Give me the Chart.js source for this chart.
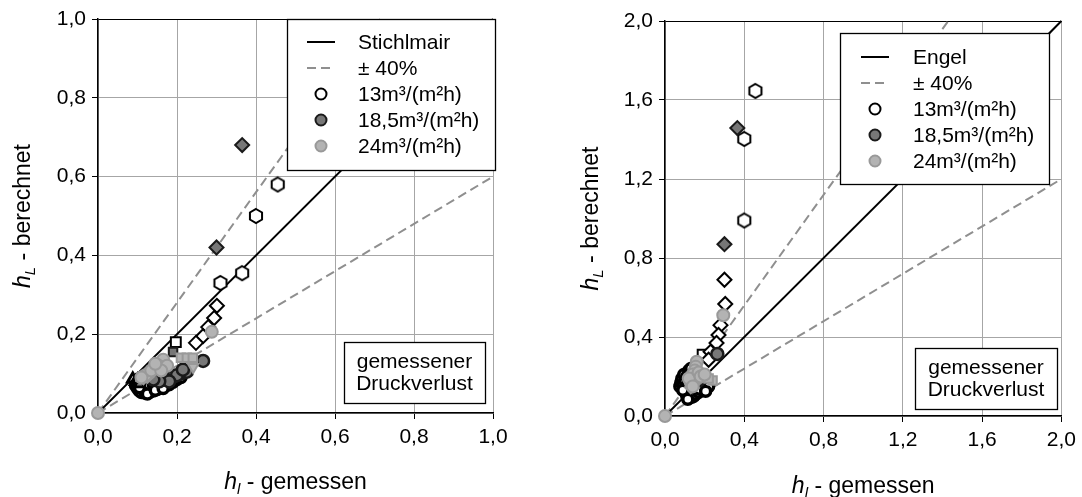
<!DOCTYPE html>
<html>
<head>
<meta charset="utf-8">
<script src="https://cdn.jsdelivr.net/npm/chart.js@4.4.1/dist/chart.umd.min.js"></script>
<style>
  body { margin: 0; background: #fff; }
  #wrap { position: relative; width: 1082px; height: 497px; }
  canvas { position: absolute; top: 0; }
</style>
</head>
<body>
<div id="wrap">
  <canvas id="chartL" width="541" height="497" style="left:0"></canvas>
  <canvas id="chartR" width="541" height="497" style="left:541px"></canvas>
</div>
<script>
// ---- Stichlmair panel: [gemessen, berechnet] ----
const stichHex13 = [[0.455, 0.58], [0.40, 0.50], [0.365, 0.355], [0.31, 0.33]];
const stichDia13 = [[0.301, 0.272], [0.294, 0.241], [0.279, 0.218], [0.266, 0.195], [0.248, 0.178]];
const stichSq13 = [[0.197, 0.18]];
const stichTri13 = [[0.088, 0.086], [0.095, 0.08], [0.105, 0.074], [0.10, 0.084]];
const stichCirc13 = [[0.095, 0.07], [0.10, 0.062], [0.105, 0.056], [0.11, 0.052], [0.115, 0.06], [0.12, 0.05],
  [0.125, 0.058], [0.13, 0.052], [0.135, 0.062], [0.14, 0.056], [0.145, 0.066], [0.15, 0.06], [0.155, 0.07],
  [0.16, 0.064], [0.165, 0.074], [0.17, 0.068], [0.175, 0.078], [0.18, 0.072], [0.185, 0.082], [0.19, 0.078],
  [0.20, 0.085], [0.21, 0.09], [0.11, 0.068], [0.12, 0.066], [0.13, 0.07], [0.14, 0.072], [0.105, 0.064],
  [0.125, 0.048], [0.145, 0.058], [0.165, 0.062], [0.195, 0.088]];
const stichDia185 = [[0.365, 0.68], [0.30, 0.42]];
const stichSq185 = [[0.19, 0.155]];
const stichCirc185 = [[0.266, 0.132], [0.21, 0.10], [0.19, 0.092], [0.17, 0.085], [0.20, 0.096], [0.18, 0.08],
  [0.225, 0.105], [0.155, 0.08], [0.14, 0.085], [0.215, 0.11]];
const stichCirc24 = [[0, 0], [0.288, 0.206], [0.165, 0.135], [0.15, 0.122], [0.14, 0.112], [0.13, 0.102],
  [0.12, 0.096], [0.155, 0.118], [0.135, 0.108], [0.11, 0.09], [0.175, 0.12], [0.16, 0.108], [0.145, 0.125]];
const stichSq24 = [[0.21, 0.14], [0.225, 0.14], [0.24, 0.14]];
const stichTri24 = [[0.241, 0.117]];
const stichDia24 = [[0.115, 0.088], [0.125, 0.092]];
const stichLine = [[0, 0], [1, 1]];
const stichUpper = [[0, 0], [0.714, 1]];
const stichLower = [[0, 0], [1, 0.6]];

// ---- Engel panel ----
const engelHex13 = [[0.456, 1.646], [0.40, 1.403], [0.40, 0.99]];
const engelDia13 = [[0.30, 0.69], [0.304, 0.567], [0.28, 0.46], [0.27, 0.41], [0.26, 0.37], [0.23, 0.325], [0.22, 0.285]];
const engelSq13 = [[0.19, 0.31]];
const engelCirc13 = [[0.075, 0.15], [0.08, 0.17], [0.085, 0.19], [0.09, 0.16], [0.095, 0.21], [0.10, 0.18],
  [0.10, 0.14], [0.105, 0.12], [0.11, 0.10], [0.115, 0.16], [0.12, 0.09], [0.125, 0.13], [0.13, 0.11],
  [0.135, 0.095], [0.14, 0.12], [0.145, 0.10], [0.15, 0.13], [0.155, 0.11], [0.16, 0.14], [0.17, 0.12],
  [0.18, 0.15], [0.19, 0.13], [0.20, 0.16], [0.21, 0.14], [0.22, 0.15], [0.12, 0.23], [0.11, 0.20], [0.13, 0.24],
  [0.09, 0.13], [0.115, 0.085], [0.175, 0.135], [0.205, 0.125]];
const engelDia185 = [[0.365, 1.458], [0.30, 0.87]];
const engelCirc185 = [[0.264, 0.314], [0.13, 0.20], [0.15, 0.22], [0.17, 0.18]];
const engelCirc24 = [[0, 0], [0.294, 0.51], [0.16, 0.275], [0.155, 0.25], [0.15, 0.23], [0.14, 0.21], [0.16, 0.20],
  [0.15, 0.18], [0.13, 0.17], [0.12, 0.19], [0.17, 0.22], [0.18, 0.20], [0.14, 0.15], [0.20, 0.21]];
const engelSq24 = [[0.24, 0.18], [0.22, 0.19]];
const engelDia24 = [[0.13, 0.145]];
const engelLine = [[0, 0], [2, 2]];
const engelUpper = [[0, 0], [1.429, 2]];
const engelLower = [[0, 0], [2, 1.2]];

const legendStich = ['Stichlmair', '± 40%', '13m³/(m²h)', '18,5m³/(m²h)', '24m³/(m²h)'];
const legendEngel = ['Engel', '± 40%', '13m³/(m²h)', '18,5m³/(m²h)', '24m³/(m²h)'];
const boxText = ['gemessener', 'Druckverlust'];

const FONT = '"Liberation Sans", Arial, sans-serif';
const series = {
  v13: { fill: '#ffffff', stroke: '#000000' },
  v185: { fill: '#777777', stroke: '#1a1a1a' },
  v24: { fill: '#b3b3b3', stroke: '#999999' }
};
const DASH = [9, 5];
const DASH_COLOR = '#8f8f8f';

const pts = arr => arr.map(p => ({ x: p[0], y: p[1] }));

// hexagon marker as a small canvas
function hexMarker(r, fill, stroke, lw) {
  const c = document.createElement('canvas');
  const s = Math.ceil(2 * r + lw + 2);
  c.width = s; c.height = s;
  const g = c.getContext('2d');
  g.beginPath();
  for (let k = 0; k < 6; k++) {
    const a = -Math.PI / 2 + k * Math.PI / 3;
    const px = s / 2 + r * Math.cos(a), py = s / 2 + r * Math.sin(a);
    k ? g.lineTo(px, py) : g.moveTo(px, py);
  }
  g.closePath();
  g.fillStyle = fill; g.fill();
  g.lineWidth = lw; g.strokeStyle = stroke; g.stroke();
  return c;
}

function markers(data, style, col, radius, rotation, bw) {
  return {
    type: 'scatter', data: pts(data), showLine: false, clip: false,
    pointStyle: style, pointRadius: radius || 6, pointRotation: rotation || 0,
    pointBackgroundColor: col.fill, pointBorderColor: col.stroke, pointBorderWidth: bw || 2
  };
}

function refLine(data, color, dash) {
  return {
    type: 'scatter', data: pts(data), showLine: true, clip: false,
    borderColor: color, borderWidth: dash ? 2 : 1.8, borderDash: dash || [],
    pointRadius: 0
  };
}

// italic h with subscript, then plain text, centered on cx
function titleText(ctx, sub, rest, cx, base) {
  ctx.font = 'italic 23px ' + FONT;
  const w1 = ctx.measureText('h').width;
  ctx.font = 'italic 15px ' + FONT;
  const w2 = ctx.measureText(sub).width;
  ctx.font = '23px ' + FONT;
  const w3 = ctx.measureText(rest).width;
  let x = cx - (w1 + w2 + w3) / 2;
  ctx.fillStyle = '#000';
  ctx.textBaseline = 'alphabetic';
  ctx.textAlign = 'left';
  ctx.font = 'italic 23px ' + FONT; ctx.fillText('h', x, base); x += w1;
  ctx.font = 'italic 15px ' + FONT; ctx.fillText(sub, x, base + 5); x += w2;
  ctx.font = '23px ' + FONT; ctx.fillText(rest, x, base);
}

const panelDecor = {
  id: 'panelDecor',
  afterDraw(chart, args, o) {
    const ctx = chart.ctx;
    const a = chart.chartArea;
    ctx.save();

    // legend box
    const L = o.legend;
    ctx.fillStyle = '#fff';
    ctx.fillRect(L.x1, L.y1, L.x2 - L.x1, L.y2 - L.y1);
    ctx.strokeStyle = '#000'; ctx.lineWidth = 1.3; ctx.setLineDash([]);
    ctx.strokeRect(L.x1 + 0.5, L.y1 + 0.5, L.x2 - L.x1, L.y2 - L.y1);
    if (o.bevel) {
      ctx.beginPath();
      ctx.moveTo(L.x2 + 0.5, L.y1 + 0.5);
      ctx.lineTo(a.right, a.top);
      ctx.stroke();
    }
    const mx = L.symX, lineHalf = 14;
    L.labels.forEach((txt, i) => {
      const y = L.row0 + i * L.rowGap;
      if (i === 0 || i === 1) {
        ctx.beginPath();
        ctx.strokeStyle = i === 0 ? '#000' : DASH_COLOR;
        ctx.lineWidth = 2;
        ctx.setLineDash(i === 0 ? [] : DASH);
        ctx.moveTo(mx - lineHalf, y); ctx.lineTo(mx + lineHalf, y);
        ctx.stroke();
        ctx.setLineDash([]);
      } else {
        const col = [series.v13, series.v185, series.v24][i - 2];
        ctx.beginPath();
        ctx.arc(mx, y, 5.5, 0, Math.PI * 2);
        ctx.fillStyle = col.fill; ctx.fill();
        ctx.lineWidth = 2; ctx.strokeStyle = col.stroke; ctx.stroke();
      }
      ctx.fillStyle = '#000';
      ctx.font = '21px ' + FONT;
      ctx.textBaseline = 'middle'; ctx.textAlign = 'left';
      ctx.fillText(txt, L.textX, y + 1);
    });

    // "gemessener Druckverlust" box
    const B = o.box;
    ctx.fillStyle = '#fff';
    ctx.fillRect(B.x1, B.y1, B.x2 - B.x1, B.y2 - B.y1);
    ctx.strokeStyle = '#000'; ctx.lineWidth = 1.3;
    ctx.strokeRect(B.x1 + 0.5, B.y1 + 0.5, B.x2 - B.x1, B.y2 - B.y1);
    ctx.fillStyle = '#000'; ctx.font = '21px ' + FONT;
    ctx.textAlign = 'center'; ctx.textBaseline = 'middle';
    boxText.forEach((t, i) => ctx.fillText(t, (B.x1 + B.x2) / 2, B.y1 + 20 + i * 22));

    // axis titles
    titleText(ctx, 'l', ' - gemessen', (a.left + a.right) / 2, o.xTitleBase);
    ctx.translate(o.yTitleBase, (a.top + a.bottom) / 2);
    ctx.rotate(-Math.PI / 2);
    titleText(ctx, 'L', ' - berechnet', 0, 0);
    ctx.restore();
  }
};

function axis(max, step, size, horizontal) {
  return {
    type: 'linear', min: 0, max: max,
    afterFit(scale) { if (horizontal) scale.height = size; else scale.width = size; },
    ticks: {
      stepSize: step, color: '#000', padding: 6,
      font: { family: FONT, size: 21 },
      callback: v => v.toFixed(1).replace('.', ',')
    },
    grid: {
      color: ctx => (!horizontal && Math.abs(ctx.tick.value - max) < 1e-9) ? '#000' : '#a6a6a6',
      lineWidth: 1, tickLength: 6, tickColor: '#000'
    },
    border: { color: '#000', width: 1.5 }
  };
}

function panel(id, cfg) {
  const hex = hexMarker(7, series.v13.fill, series.v13.stroke, 2);
  return new Chart(document.getElementById(id), {
    data: {
      datasets: [
        markers(cfg.circ24, 'circle', series.v24),
        markers(cfg.sq24, 'rect', series.v24),
        markers(cfg.tri24, 'triangle', series.v24, 6, 180),
        markers(cfg.dia24, 'rectRot', series.v24),
        markers(cfg.dia185, 'rectRot', series.v185, 7),
        markers(cfg.sq185, 'rect', series.v185),
        markers(cfg.circ185, 'circle', series.v185, 6, 0, 2.5),
        markers(cfg.hex13, hex, series.v13),
        markers(cfg.dia13, 'rectRot', series.v13, 7),
        markers(cfg.sq13, 'rect', series.v13, 7),
        markers(cfg.tri13, 'triangle', series.v13, 6, 0, 3),
        markers(cfg.circ13, 'circle', series.v13, 5, 0, 3.5),
        refLine(cfg.line, '#000'),
        refLine(cfg.upper, DASH_COLOR, DASH),
        refLine(cfg.lower, DASH_COLOR, DASH)
      ]
    },
    options: {
      responsive: false,
      animation: false,
      events: [],
      layout: { padding: cfg.padding },
      scales: {
        x: axis(cfg.max, cfg.step, cfg.xAxisH, true),
        y: axis(cfg.max, cfg.step, cfg.yAxisW, false)
      },
      plugins: {
        legend: { display: false },
        tooltip: { enabled: false },
        panelDecor: cfg.decor
      }
    },
    plugins: [panelDecor]
  });
}

panel('chartL', {
  circ24: stichCirc24, sq24: stichSq24, tri24: stichTri24, dia24: stichDia24,
  dia185: stichDia185, sq185: stichSq185, circ185: stichCirc185,
  hex13: stichHex13, dia13: stichDia13, sq13: stichSq13, tri13: stichTri13, circ13: stichCirc13,
  line: stichLine, upper: stichUpper, lower: stichLower,
  max: 1, step: 0.2, xAxisH: 84, yAxisW: 98,
  padding: { top: 19, right: 48, left: 0, bottom: 0 },
  decor: {
    legend: { x1: 287, y1: 19, x2: 495, y2: 170, symX: 321, textX: 358, row0: 42, rowGap: 26, labels: legendStich },
    box: { x1: 344, y1: 342, x2: 485, y2: 403 },
    xTitleBase: 489, yTitleBase: 30
  }
});

panel('chartR', {
  circ24: engelCirc24, sq24: engelSq24, tri24: [], dia24: engelDia24,
  dia185: engelDia185, sq185: [], circ185: engelCirc185,
  hex13: engelHex13, dia13: engelDia13, sq13: engelSq13, tri13: [], circ13: engelCirc13,
  line: engelLine, upper: engelUpper, lower: engelLower,
  max: 2, step: 0.4, xAxisH: 81, yAxisW: 124,
  padding: { top: 21, right: 20, left: 0, bottom: 0 },
  decor: {
    legend: { x1: 299, y1: 33, x2: 508, y2: 184, symX: 334, textX: 372, row0: 57, rowGap: 26, labels: legendEngel },
    bevel: true,
    box: { x1: 374, y1: 348, x2: 516, y2: 409 },
    xTitleBase: 493, yTitleBase: 57
  }
});
</script>
</body>
</html>
